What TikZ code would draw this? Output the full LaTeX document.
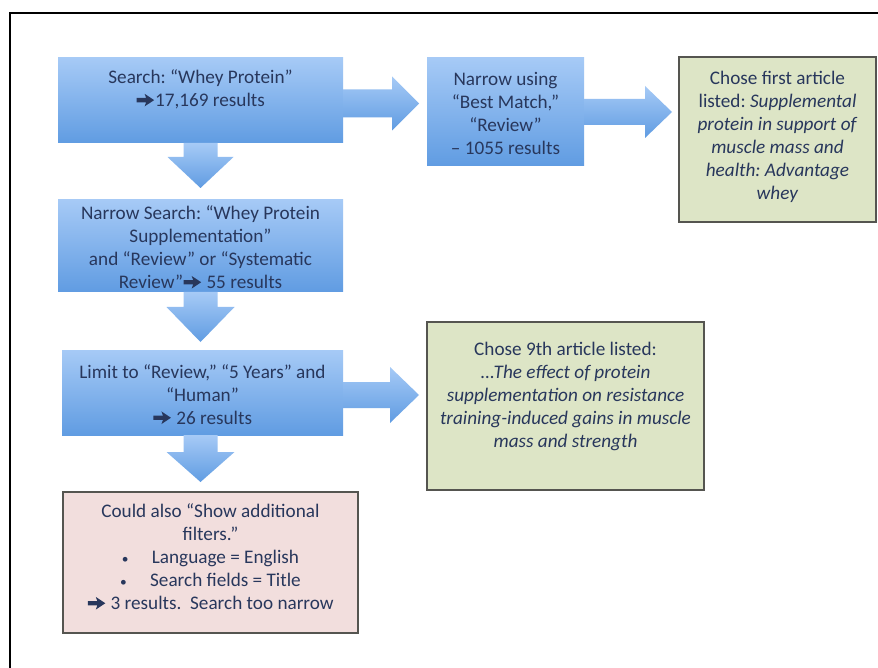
\documentclass[tikz,border=0pt]{standalone}
\usepackage{fontspec}
\setmainfont{Carlito}
\usetikzlibrary{calc}
\definecolor{txtc}{RGB}{40,55,92}
\definecolor{bluetop}{RGB}{166,202,246}
\definecolor{bluebot}{RGB}{96,156,226}
\definecolor{greenfill}{RGB}{221,229,198}
\definecolor{pinkfill}{RGB}{242,222,221}
\definecolor{boxline}{RGB}{85,85,80}
\newsavebox\arrbox
\newcommand\arr{\usebox\arrbox}
\newcommand\blt{\makebox[30pt][l]{\scalebox{0.7}{\textbullet}}}
\newcommand\arrR[5]{\shade[barrow] let \p1=(#1),\p2=(#2) in
  (\x1,\y1+#3) -- (\x2-#5,\y1+#3) -- (\x2-#5,\y1+#4) -- (\x2,\y1) --
  (\x2-#5,\y1-#4) -- (\x2-#5,\y1-#3) -- (\x1,\y1-#3) -- cycle;}
\newcommand\arrD[5]{\shade[barrow] let \p1=(#1),\p2=(#2) in
  (\x1-#3,\y1) -- (\x1-#3,\y2+#5) -- (\x1-#4,\y2+#5) -- (\x1,\y2) --
  (\x1+#4,\y2+#5) -- (\x1+#3,\y2+#5) -- (\x1+#3,\y1) -- cycle;}
\tikzset{
  bluebox/.style={rectangle, draw=none, top color=bluetop, bottom color=bluebot, inner sep=0pt, outer sep=0pt},
  greenbox/.style={rectangle, draw=boxline, line width=1.3pt, fill=greenfill, inner sep=0pt, outer sep=0pt},
  pinkbox/.style={rectangle, draw=boxline, line width=1.3pt, fill=pinkfill, inner sep=0pt, outer sep=0pt},
  barrow/.style={top color=bluetop, bottom color=bluebot, draw=none},
  label/.style={align=center, text=txtc, inner sep=0pt, font=\fontsize{19.2pt}{23pt}\selectfont\frenchspacing},
}
\begin{document}
\sbox\arrbox{\begin{pgfpicture}%
\pgfpathrectangle{\pgfpoint{-0.5pt}{0pt}}{\pgfpoint{19pt}{1pt}}\pgfusepath{use as bounding box}%
\pgfsetfillcolor{txtc}%
\pgfpathmoveto{\pgfpoint{0pt}{4.4pt}}%
\pgfpathlineto{\pgfpoint{9.5pt}{4.4pt}}%
\pgfpathlineto{\pgfpoint{8pt}{0.3pt}}%
\pgfpathlineto{\pgfpoint{17.5pt}{6.6pt}}%
\pgfpathlineto{\pgfpoint{8pt}{12.9pt}}%
\pgfpathlineto{\pgfpoint{9.5pt}{8.8pt}}%
\pgfpathlineto{\pgfpoint{0pt}{8.8pt}}%
\pgfpathclose
\pgfusepath{fill}%
\end{pgfpicture}}%
\begin{tikzpicture}[x=1pt,y=-1pt]
\useasboundingbox (0,0) rectangle (878,668);
\fill[white] (0,0) rectangle (878,668);
\draw[line width=1.6pt, line cap=rect] (10,668) -- (10,13) -- (878,13);

% boxes
\node[bluebox, minimum width=285pt, minimum height=85pt] (b1) at (200.5,100.5) {};
\node[bluebox, minimum width=285pt, minimum height=92pt] (b2) at (200.5,246) {};
\node[bluebox, minimum width=281pt, minimum height=85pt] (b3) at (202.5,392.5) {};
\node[bluebox, minimum width=157pt, minimum height=108pt] (b4) at (505.5,112) {};
\node[greenbox, minimum width=197pt, minimum height=165pt] (g1) at (777.5,139.5) {};
\node[greenbox, minimum width=277pt, minimum height=168pt] (g2) at (565.5,406) {};
\node[pinkbox, minimum width=295pt, minimum height=141pt] (p) at (210.5,562.5) {};

% texts
\node[label] (t1) at ($(b1.center)+(0,-11)$) {Search: “Whey Protein”\\\arr17,169 results};
\node[label] (t2) at ($(b2.center)+(0,1.5)$) {Narrow Search: “Whey Protein\\Supplementation”\\and “Review” or “Systematic\\Review”\arr\ 55 results};
\node[label] (t3) at ($(b3.center)+(0,2)$) {Limit to “Review,” “5 Years” and\\“Human”\\\arr\ 26 results};
\node[label] (t4) at ($(b4.center)+(0,1)$) {Narrow using\\“Best Match,”\\“Review”\\– 1055 results};
\node[label] (tg1) at ($(g1.center)+(0,-3)$) {Chose first article\\listed: \textit{Supplemental}\\\textit{protein in support of}\\\textit{muscle mass and}\\\textit{health: Advantage}\\\textit{whey}};
\node[label] (tg2) at ($(g2.center)+(0,-10)$) {Chose 9th article listed:\\\textit{...The effect of protein}\\\textit{supplementation on resistance}\\\textit{training-induced gains in muscle}\\\textit{mass and strength}};
\node[label] (tp) at ($(p.center)+(0,-5.5)$) {Could also “Show additional\\filters.”\\\blt Language = English\\\blt Search fields = Title\\\arr\ 3 results.\ \ Search too narrow};

% arrows
\coordinate (r1s) at ($(b1.east)+(0,3)$);
\coordinate (r1e) at ($(r1s -| b4.west)+(-8,0)$);
\arrR{r1s}{r1e}{14pt}{27pt}{27pt}
\coordinate (r2e) at ($(b4.east -| g1.west)+(-7,0)$);
\arrR{b4.east}{r2e}{13pt}{26pt}{27pt}
\coordinate (r3s) at ($(b3.east)+(0,2.5)$);
\coordinate (r3e) at ($(r3s -| g2.west)+(-8,0)$);
\arrR{r3s}{r3e}{13pt}{28pt}{29pt}

\coordinate (d1e) at ($(b1.south |- b2.north)+(0,-12)$);
\arrD{b1.south}{d1e}{17pt}{33pt}{31pt}
\coordinate (d2e) at ($(b2.south |- b3.north)+(0,-8)$);
\arrD{b2.south}{d2e}{17pt}{34pt}{35pt}
\coordinate (d3s) at (b3.south -| b2.south);
\coordinate (d3e) at ($(d3s |- p.north)+(0,-10)$);
\arrD{d3s}{d3e}{17pt}{34pt}{30pt}
\end{tikzpicture}
\end{document}
